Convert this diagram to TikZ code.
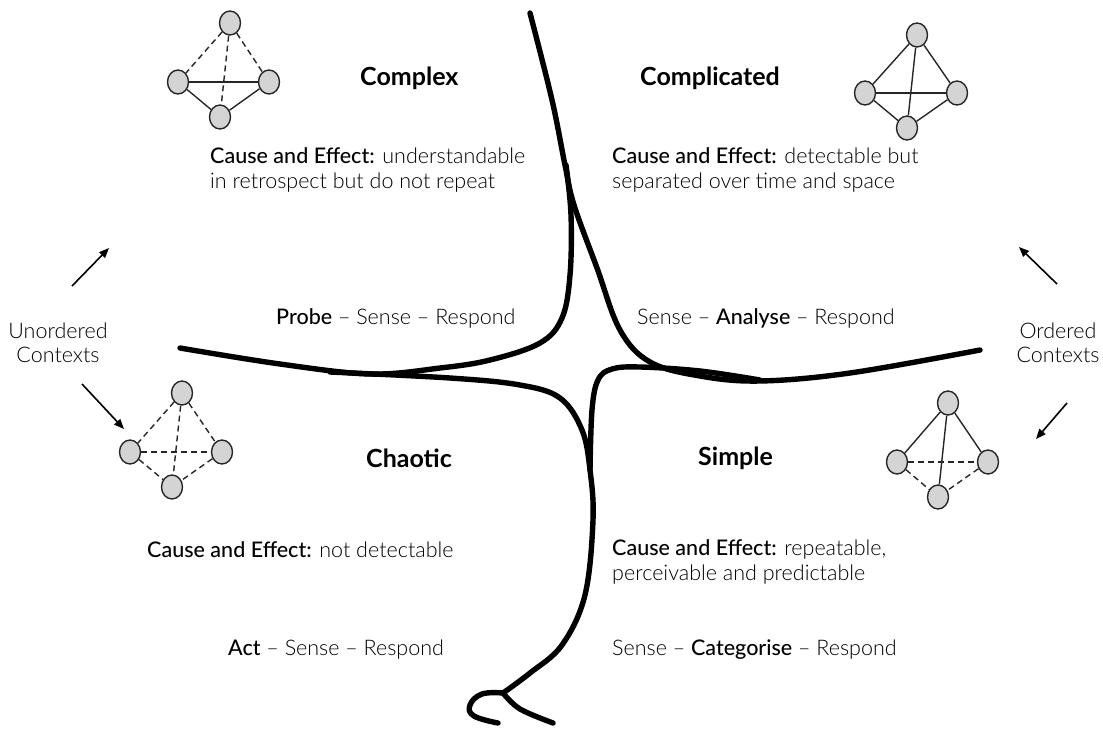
\documentclass[tikz,border=0pt]{standalone}
\usepackage{fontspec}
\setmainfont{Lato}[UprightFont=* Light,BoldFont=* Medium]
\newfontfamily\titlefont{Lato}[UprightFont=* Bold]
\usetikzlibrary{arrows.meta,shapes.geometric}
\begin{document}
\begin{tikzpicture}[x=1pt,y=-1pt,
  vtx/.style={ellipse,draw=black!85,line width=1.4pt,fill=black!17,minimum width=21pt,minimum height=24pt,inner sep=0pt},
  solidedge/.style={line width=1.4pt,black!85},
  dashedge/.style={line width=1.4pt,black!85,dash pattern=on 6pt off 4pt},
  title/.style={font=\fontsize{25}{28}\selectfont\titlefont,anchor=west,inner sep=0pt},
  body/.style={font=\fontsize{21.5}{24.5}\selectfont,anchor=west,align=left,inner sep=0pt},
  ctx/.style={font=\fontsize{21.5}{24}\selectfont,align=center,inner sep=0pt},
  thickcurve/.style={line width=5.4pt,line cap=round,line join=round},
  ctxarrow/.style={line width=1.6pt,-{Triangle[length=10pt,width=8pt]}}
]
\useasboundingbox (0,0) rectangle (1103,732);
% ---- curves
\draw[thickcurve] plot[smooth,tension=0.6] coordinates {(530,13) (552,100) (565,165) (574,205) (597,268) (620,330) (650,362) (700,376) (760,381) (850,373) (980,350)};
\draw[thickcurve] plot[smooth,tension=0.6] coordinates {(566,165) (571,215) (570,275) (562,318) (540,343) (490,360) (440,368) (370,374) (280,364) (180,348)};
\draw[thickcurve] plot[smooth,tension=0.6] coordinates {(330,372) (450,378) (520,385) (560,398) (582,430) (590,470) (593,520) (585,595) (562,645) (530,673) (503,693)};
\draw[thickcurve] plot[smooth,tension=0.6] coordinates {(590,470) (592,410) (598,380) (612,369) (640,367) (700,371) (760,380)};
\draw[thickcurve] plot[smooth,tension=0.7] coordinates {(503,693) (482,694) (470,705) (474,716) (498,723)};
\draw[thickcurve] plot[smooth,tension=0.6] coordinates {(503,693) (520,709) (553,723)};

% ---- titles
\node[title] (tcx) at (360,78) {Complex};
\node[title] (tcd) at (640,78) {Complicated};
\node[title] (tch) at (366,458) {Chaotic};
\node[title] (tsi) at (698,458) {Simple};

% ---- cause and effect
\node[body] (ccx) at (210,170) {\textbf{Cause and Effect:} understandable\\in retrospect but do not repeat};
\node[body] (ccd) at (612,170) {\textbf{Cause and Effect:} detectable but\\separated over time and space};
\node[body] (cch) at (147,550) {\textbf{Cause and Effect:} not detectable};
\node[body] (csi) at (612,562) {\textbf{Cause and Effect:} repeatable,\\perceivable and predictable};

% ---- practices
\node[body] (pcx) at (276,318) {\textbf{Probe} -- Sense -- Respond};
\node[body] (pcd) at (637,318) {Sense -- \textbf{Analyse} -- Respond};
\node[body] (pch) at (228,650) {\textbf{Act} -- Sense -- Respond};
\node[body] (psi) at (612,650) {Sense -- \textbf{Categorise} -- Respond};

% ---- contexts
\node[ctx] (uo) at (58,343) {Unordered\\Contexts};
\node[ctx] (oc) at (1058,343) {Ordered\\Contexts};
\coordinate (a1s) at (72,286); \coordinate (a1e) at (109,248);
\coordinate (a2s) at (82,384); \coordinate (a2e) at (124,429);
\coordinate (a3s) at (1057,284); \coordinate (a3e) at (1019,247);
\coordinate (a4s) at (1067,403); \coordinate (a4e) at (1036,439);
\draw[ctxarrow] (a1s) -- (a1e);
\draw[ctxarrow] (a2s) -- (a2e);
\draw[ctxarrow] (a3s) -- (a3e);
\draw[ctxarrow] (a4s) -- (a4e);

% ---- graph: complex
\node[vtx] (g1t) at (230,23) {};
\node[vtx] (g1l) at (178,82) {};
\node[vtx] (g1r) at (269,82) {};
\node[vtx] (g1b) at (220,117) {};
\draw[dashedge] (g1t) -- (g1l);
\draw[dashedge] (g1t) -- (g1r);
\draw[dashedge] (g1t) -- (g1b);
\draw[solidedge] (g1l) -- (g1r);
\draw[solidedge] (g1l) -- (g1b);
\draw[solidedge] (g1r) -- (g1b);

% ---- graph: complicated
\node[vtx] (g2t) at (917,35) {};
\node[vtx] (g2l) at (865,93) {};
\node[vtx] (g2r) at (957,93) {};
\node[vtx] (g2b) at (907,128) {};
\draw[solidedge] (g2t) -- (g2l);
\draw[solidedge] (g2t) -- (g2r);
\draw[solidedge] (g2t) -- (g2b);
\draw[solidedge] (g2l) -- (g2r);
\draw[solidedge] (g2l) -- (g2b);
\draw[solidedge] (g2r) -- (g2b);

% ---- graph: chaotic
\node[vtx] (g3t) at (182,393) {};
\node[vtx] (g3l) at (130,452) {};
\node[vtx] (g3r) at (222,452) {};
\node[vtx] (g3b) at (172,487) {};
\draw[dashedge] (g3t) -- (g3l);
\draw[dashedge] (g3t) -- (g3r);
\draw[dashedge] (g3t) -- (g3b);
\draw[dashedge] (g3l) -- (g3r);
\draw[dashedge] (g3l) -- (g3b);
\draw[dashedge] (g3r) -- (g3b);

% ---- graph: simple
\node[vtx] (g4t) at (948,403) {};
\node[vtx] (g4l) at (897,462) {};
\node[vtx] (g4r) at (988,462) {};
\node[vtx] (g4b) at (938,497) {};
\draw[solidedge] (g4t) -- (g4l);
\draw[solidedge] (g4t) -- (g4r);
\draw[solidedge] (g4t) -- (g4b);
\draw[dashedge] (g4l) -- (g4r);
\draw[dashedge] (g4l) -- (g4b);
\draw[dashedge] (g4r) -- (g4b);
\end{tikzpicture}
\end{document}
